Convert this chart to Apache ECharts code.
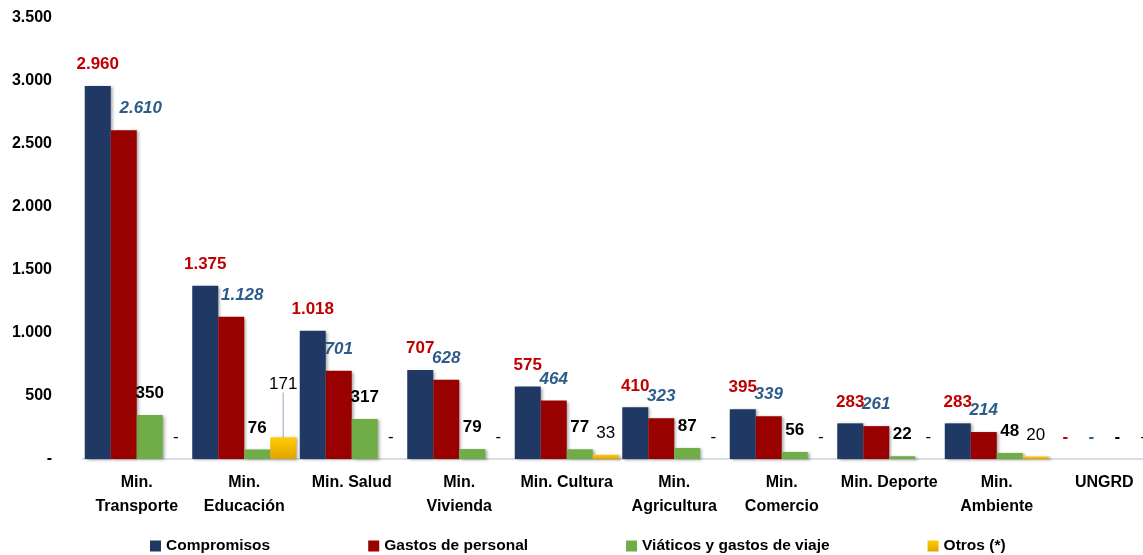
<!DOCTYPE html>
<html>
<head>
<meta charset="utf-8">
<style>
	html, body { margin: 0; padding: 0; background: #fff; overflow: hidden; }
	#chart { width: 1160px; height: 555px; }
</style>
<script src="https://cdn.jsdelivr.net/npm/echarts@6/dist/echarts.min.js"></script>
</head>
<body>
<div id="chart"></div>
<script>
	// datos del grafico
	var categorias = ['Min.\nTransporte', 'Min.\nEducación', 'Min. Salud', 'Min.\nVivienda', 'Min. Cultura',
		'Min.\nAgricultura', 'Min.\nComercio', 'Min. Deporte', 'Min.\nAmbiente', 'UNGRD']
	var compromisos = [2960, 1375, 1018, 707, 575, 410, 395, 283, 283, 0]
	var gastosPersonal = [2610, 1128, 701, 628, 464, 323, 339, 261, 214, 0]
	var viaticos = [350, 76, 317, 79, 77, 87, 56, 22, 48, 0]
	var otros = [0, 171, 0, 0, 33, 0, 0, 0, 20, 0]
	var ejeY = [0, 500, 1000, 1500, 2000, 2500, 3000, 3500]

	var fuente = '"Liberation Sans", Arial, sans-serif'

	function formato(v) {
		if (v === 0) return '-'
		return String(v).replace(/\B(?=(\d{3})+(?!\d))/g, '.')
	}

	var sombra = {
		shadowBlur: 3,
		shadowOffsetX: 2,
		shadowOffsetY: 1,
		shadowColor: 'rgba(0,0,0,0.35)'
	}

	function etiqueta(color, weight, style) {
		return {
			show: true,
			position: 'top',
			distance: 13,
			fontFamily: fuente,
			fontSize: 17,
			fontWeight: weight,
			fontStyle: style,
			color: color,
			formatter: function (p) { return formato(p.value) }
		}
	}

	var gastosData = gastosPersonal.map(function (v, i) {
		if (i === 0) return { value: v, label: { offset: [17, 0] } }
		if (i === 1) return { value: v, label: { offset: [11, 0] } }
		return v
	})

	var otrosData = otros.map(function (v, i) {
		if (i === 1) return { value: v, labelLine: { show: true, lineStyle: { color: '#B7C3D6', width: 1.5 } } }
		return v
	})

	var chart = echarts.init(document.getElementById('chart'))
	var option = {
		animation: false,
		textStyle: { fontFamily: fuente },
		grid: { left: 83, right: 2, top: 18, bottom: 96 },
		legend: {
			left: 150,
			top: 538,
			padding: 0,
			itemWidth: 11,
			itemHeight: 11,
			itemGap: 98,
			icon: 'rect',
			textStyle: { fontFamily: fuente, fontSize: 15.5, fontWeight: 'bold', color: '#000' },
			data: ['Compromisos', 'Gastos de personal', 'Viáticos y gastos de viaje', 'Otros (*)']
		},
		xAxis: {
			type: 'category',
			data: categorias,
			axisTick: { show: false },
			axisLine: { lineStyle: { color: '#D9DEE6', width: 2 } },
			axisLabel: {
				interval: 0,
				margin: 12,
				fontFamily: fuente,
				fontSize: 16,
				fontWeight: 'bold',
				color: '#000',
				lineHeight: 24
			}
		},
		yAxis: {
			type: 'value',
			min: ejeY[0],
			max: ejeY[ejeY.length - 1],
			interval: 500,
			splitLine: { show: false },
			axisLine: { show: false },
			axisTick: { show: false },
			axisLabel: {
				margin: 31,
				fontFamily: fuente,
				fontSize: 16,
				fontWeight: 'bold',
				color: '#000',
				formatter: function (v) { return formato(v) }
			}
		},
		series: [
			{
				name: 'Compromisos',
				type: 'bar',
				barWidth: 26,
				barGap: '0%',
				itemStyle: Object.assign({ color: '#203864' }, sombra),
				label: etiqueta('#C00000', 'bold', 'normal'),
				data: compromisos
			},
			{
				name: 'Gastos de personal',
				type: 'bar',
				barWidth: 26,
				barGap: '0%',
				itemStyle: Object.assign({ color: '#990000' }, sombra),
				label: etiqueta('#2E5C8A', 'bold', 'italic'),
				data: gastosData
			},
			{
				name: 'Viáticos y gastos de viaje',
				type: 'bar',
				barWidth: 26,
				barGap: '0%',
				itemStyle: Object.assign({ color: '#70AD47' }, sombra),
				label: etiqueta('#000', 'bold', 'normal'),
				data: viaticos
			},
			{
				name: 'Otros (*)',
				type: 'bar',
				barWidth: 26,
				barGap: '0%',
				itemStyle: Object.assign({
					color: new echarts.graphic.LinearGradient(0, 0, 0, 1, [
						{ offset: 0, color: '#FFCC00' },
						{ offset: 1, color: '#E3A300' }
					])
				}, sombra),
				label: etiqueta('#000', 'normal', 'normal'),
				labelLayout: function (p) {
					if (p.dataIndex === 1) return { dy: -32 }
					return {}
				},
				data: otrosData
			}
		]
	}
	chart.setOption(option)
</script>
</body>
</html>
